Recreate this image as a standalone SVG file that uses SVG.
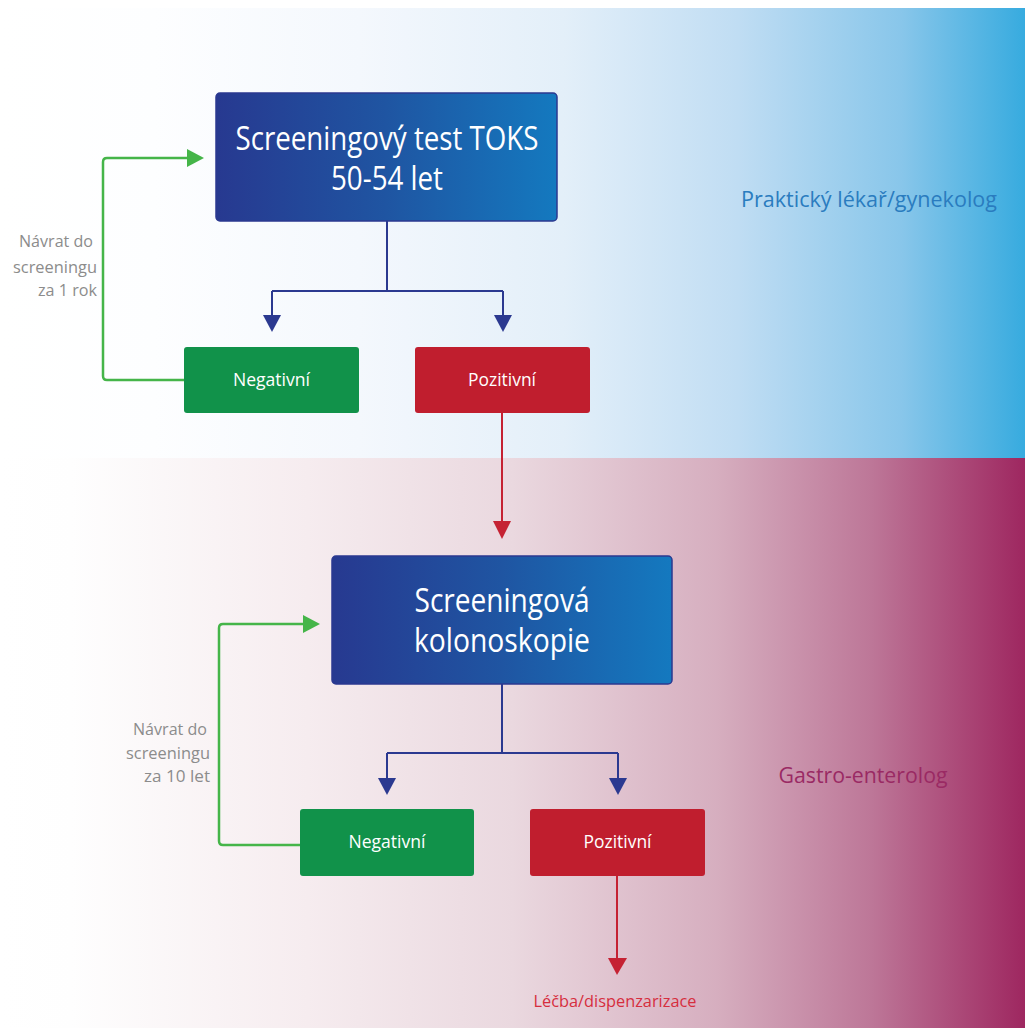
<svg xmlns="http://www.w3.org/2000/svg" width="1025" height="1028" viewBox="0 0 1025 1028">
<defs>
<linearGradient id="bgTop" x1="0" y1="0" x2="1025" y2="0" gradientUnits="userSpaceOnUse">
<stop offset="0" stop-color="#ffffff"/>
<stop offset="0.15" stop-color="#fdfeff"/>
<stop offset="0.35" stop-color="#f4f8fd"/>
<stop offset="0.55" stop-color="#e3eff9"/>
<stop offset="0.72" stop-color="#c0ddf3"/>
<stop offset="0.88" stop-color="#88c6ea"/>
<stop offset="1" stop-color="#37abdf"/>
</linearGradient>
<linearGradient id="bgBot" x1="0" y1="0" x2="1025" y2="0" gradientUnits="userSpaceOnUse">
<stop offset="0" stop-color="#ffffff"/>
<stop offset="0.07" stop-color="#fefefe"/>
<stop offset="0.3" stop-color="#f6ecef"/>
<stop offset="0.5" stop-color="#ead8df"/>
<stop offset="0.7" stop-color="#d6aebf"/>
<stop offset="0.85" stop-color="#bd7798"/>
<stop offset="1" stop-color="#9e2760"/>
</linearGradient>
<linearGradient id="boxGrad" x1="0" y1="0" x2="1" y2="0">
<stop offset="0" stop-color="#273990"/>
<stop offset="0.5" stop-color="#1f55a2"/>
<stop offset="1" stop-color="#1479bf"/>
</linearGradient>
<style>
.main{font-family:"Open Sans","Liberation Sans",sans-serif;fill:#ffffff;font-size:32px;text-anchor:middle}
.res{font-family:"Open Sans","Liberation Sans",sans-serif;fill:#ffffff;font-size:19px;text-anchor:middle}
.note{font-family:"Open Sans","Liberation Sans",sans-serif;fill:#8c8c8c;font-size:17px;text-anchor:end}
.big{fill:url(#boxGrad);stroke:#2b3990;stroke-width:1.5}
.neg{fill:#11924a}
.pos{fill:#c01e2e}
.blue{stroke:#2b3990;stroke-width:2;fill:none}
.green{stroke:#45b549;stroke-width:2.5;fill:none}
.red{stroke:#c52233;stroke-width:2;fill:none}
</style>
</defs>

<rect x="0" y="0" width="1025" height="1028" fill="#ffffff"/>
<rect x="0" y="8" width="1025" height="450" fill="url(#bgTop)"/>
<rect x="0" y="458" width="1025" height="570" fill="url(#bgBot)"/>

<text x="869" y="207" font-family="Open Sans, Liberation Sans, sans-serif" font-size="21" fill="#2a7cbf" text-anchor="middle" textLength="256" lengthAdjust="spacingAndGlyphs">Praktický lékař/gynekolog</text>
<text x="863" y="783" font-family="Open Sans, Liberation Sans, sans-serif" font-size="22" fill="#9a2a64" text-anchor="middle" textLength="169" lengthAdjust="spacingAndGlyphs">Gastro-enterolog</text>

<g id="connectors">
<path class="blue" d="M387,221 V291 M272,291 H503"/>
<path d="M272,291 V318" class="blue"/>
<path d="M503,291 V318" class="blue"/>
<path d="M263,315 L281,315 L272,332 Z" fill="#2b3990"/>
<path d="M494,315 L512,315 L503,332 Z" fill="#2b3990"/>
<path class="green" d="M184,380 H107 Q103,380 103,376 V162 Q103,158 107,158 H190"/>
<path d="M187,149 L204,158 L187,167 Z" fill="#45b549"/>
<path class="red" d="M502,413 V525"/>
<path d="M493,521 L511,521 L502,539 Z" fill="#c52233"/>
<path class="blue" d="M502,684 V753 M387,753 H618"/>
<path class="blue" d="M387,753 V781"/>
<path class="blue" d="M618,753 V781"/>
<path d="M378,778 L396,778 L387,795 Z" fill="#2b3990"/>
<path d="M609,778 L627,778 L618,795 Z" fill="#2b3990"/>
<path class="green" d="M300,845 H223 Q219,845 219,841 V628 Q219,624 223,624 H305"/>
<path d="M303,615 L320,624 L303,633 Z" fill="#45b549"/>
<path class="red" d="M617,876 V962"/>
<path d="M608,958 L627,958 L617,975 Z" fill="#c52233"/>
</g>

<g id="toks">
<rect class="big" x="216" y="93" width="341" height="128" rx="4"/>
<text class="main" x="387" y="150" textLength="303" lengthAdjust="spacingAndGlyphs">Screeningový test TOKS</text>
<text class="main" x="387" y="190" textLength="112" lengthAdjust="spacingAndGlyphs">50-54 let</text>
</g>

<g id="neg1">
<rect class="neg" x="184" y="347" width="175" height="66" rx="3"/>
<text class="res" x="271.5" y="386" textLength="77" lengthAdjust="spacingAndGlyphs">Negativní</text>
</g>

<g id="pos1">
<rect class="pos" x="415" y="347" width="175" height="66" rx="3"/>
<text class="res" x="502" y="386" textLength="68" lengthAdjust="spacingAndGlyphs">Pozitivní</text>
</g>

<g id="note1">
<text class="note" x="93" y="247" textLength="74" lengthAdjust="spacingAndGlyphs">Návrat do</text>
<text class="note" x="97" y="273" textLength="84" lengthAdjust="spacingAndGlyphs">screeningu</text>
<text class="note" x="97" y="296" textLength="59" lengthAdjust="spacingAndGlyphs">za 1 rok</text>
</g>

<g id="kolonoskopie">
<rect class="big" x="332" y="556" width="340" height="128" rx="4"/>
<text class="main" x="502" y="612" textLength="175" lengthAdjust="spacingAndGlyphs">Screeningová</text>
<text class="main" x="502" y="652" textLength="176" lengthAdjust="spacingAndGlyphs">kolonoskopie</text>
</g>

<g id="neg2">
<rect class="neg" x="300" y="809" width="174" height="67" rx="3"/>
<text class="res" x="387" y="848" textLength="77" lengthAdjust="spacingAndGlyphs">Negativní</text>
</g>

<g id="pos2">
<rect class="pos" x="530" y="809" width="175" height="67" rx="3"/>
<text class="res" x="617.5" y="848" textLength="68" lengthAdjust="spacingAndGlyphs">Pozitivní</text>
</g>

<g id="note2">
<text class="note" x="207" y="735" textLength="74" lengthAdjust="spacingAndGlyphs">Návrat do</text>
<text class="note" x="210" y="759" textLength="84" lengthAdjust="spacingAndGlyphs">screeningu</text>
<text class="note" x="210" y="782" textLength="66" lengthAdjust="spacingAndGlyphs">za 10 let</text>
</g>

<g id="lecba">
<text x="615" y="1007" font-family="Open Sans, Liberation Sans, sans-serif" font-size="17" fill="#d62e3e" text-anchor="middle" textLength="163" lengthAdjust="spacingAndGlyphs">Léčba/dispenzarizace</text>
</g>
</svg>
